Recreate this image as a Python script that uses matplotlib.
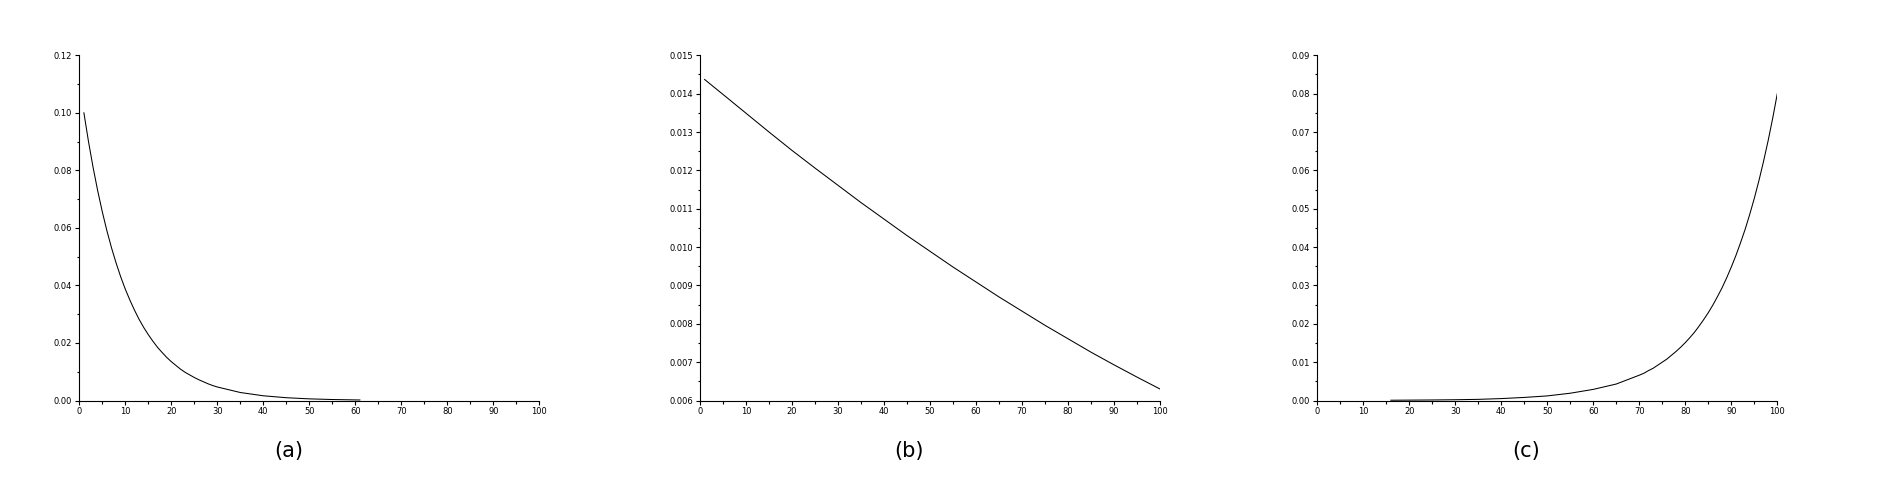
import matplotlib
matplotlib.use("Agg")
import matplotlib.pyplot as plt
from matplotlib.ticker import MultipleLocator, FormatStrFormatter

# ---- data ----
x_a = [1, 2, 3, 4, 5, 6, 7, 8, 9, 10, 11, 12, 13, 14, 15, 16, 17, 18, 19, 20,
       21, 22, 23, 24, 25, 26, 27, 28, 29, 30, 35, 40, 45, 50, 55, 61]
y_a = [0.1000, 0.0900, 0.0810, 0.0729, 0.0656, 0.0590, 0.0531, 0.0478, 0.0430, 0.0387,
       0.0349, 0.0314, 0.0282, 0.0254, 0.0229, 0.0206, 0.0185, 0.0167, 0.0150, 0.0135,
       0.0122, 0.0109, 0.0098, 0.0089, 0.0080, 0.0072, 0.0065, 0.0058, 0.0052, 0.0047,
       0.00278, 0.00164, 0.00097, 0.00057, 0.00034, 0.00018]

x_b = [1, 5, 10, 15, 20, 25, 30, 35, 40, 45, 50, 55, 60, 65, 70, 75, 80, 85, 90, 95, 100]
y_b = [0.01437, 0.01398, 0.01349, 0.01300, 0.01252, 0.01206, 0.01161, 0.01116, 0.01073,
       0.01030, 0.00989, 0.00948, 0.00909, 0.00870, 0.00833, 0.00796, 0.00761, 0.00726,
       0.00693, 0.00661, 0.00630]

x_c = [16, 20, 25, 30, 35, 40, 45, 50, 55, 60, 65, 70, 71, 72, 73, 74, 75, 76, 77, 78,
       79, 80, 81, 82, 83, 84, 85, 86, 87, 88, 89, 90, 91, 92, 93, 94, 95, 96, 97, 98,
       99, 100]
y_c = [0.00007, 0.0001, 0.00014, 0.0002, 0.0003, 0.0005, 0.0008, 0.0012, 0.0019, 0.0029,
       0.0043, 0.0066, 0.0071, 0.0078, 0.0084, 0.0092, 0.0100, 0.0108, 0.0118, 0.0128,
       0.0139, 0.0151, 0.0164, 0.0178, 0.0194, 0.0211, 0.0229, 0.0249, 0.0271, 0.0294,
       0.0320, 0.0348, 0.0378, 0.0411, 0.0446, 0.0485, 0.0527, 0.0573, 0.0623, 0.0677,
       0.0736, 0.0800]

panel_labels = ["(a)", "(b)", "(c)"]

# ---- figure ----
fig = plt.figure(figsize=(19, 5), dpi=100)
lefts = [79.3 / 1900, 700 / 1900, 1317.3 / 1900]
width = 460 / 1900
bottom = 1 - 400.5 / 500
height = 345.2 / 500

panels = [
    (x_a, y_a, (0.0, 0.12), 0.02, "%.2f"),
    (x_b, y_b, (0.006, 0.015), 0.001, "%.3f"),
    (x_c, y_c, (0.0, 0.09), 0.01, "%.2f"),
]

for left, (xs, ys, ylim, ystep, fmt), lab in zip(lefts, panels, panel_labels):
    ax = fig.add_axes([left, bottom, width, height])
    ax.plot(xs, ys, color="black", lw=0.75)
    ax.set_xlim(0, 100)
    ax.set_ylim(*ylim)
    ax.xaxis.set_major_locator(MultipleLocator(10))
    ax.xaxis.set_minor_locator(MultipleLocator(5))
    ax.yaxis.set_major_locator(MultipleLocator(ystep))
    ax.yaxis.set_minor_locator(MultipleLocator(ystep / 2))
    ax.yaxis.set_major_formatter(FormatStrFormatter(fmt))
    ax.xaxis.set_major_formatter(FormatStrFormatter("%d"))
    for s in ("top", "right"):
        ax.spines[s].set_visible(False)
    for s in ("left", "bottom"):
        ax.spines[s].set_linewidth(0.8)
    ax.tick_params(which="major", direction="out", length=3, width=0.8,
                   labelsize=6, pad=2, colors="black")
    ax.tick_params(which="minor", direction="out", length=1.8, width=0.8)
    fig.text(left + 0.455 * width, 1 - 450.7 / 500, lab, ha="center", va="center",
             fontsize=15, family="DejaVu Sans")

fig.savefig("out.png", dpi=100, facecolor="white")
